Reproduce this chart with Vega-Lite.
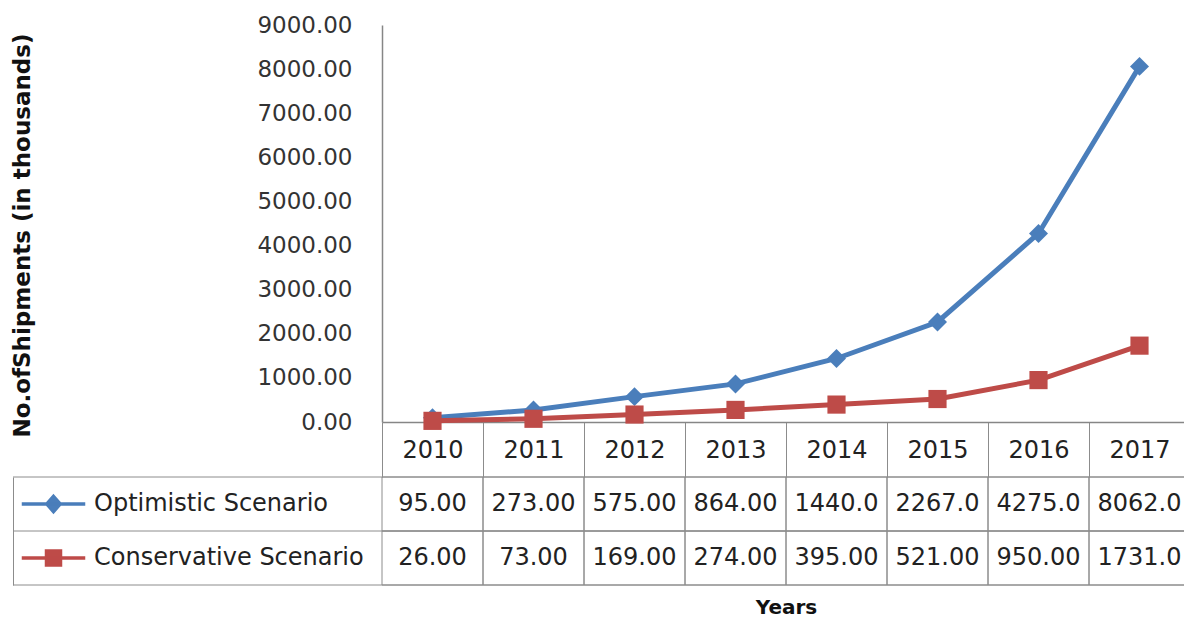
{
 "$schema": "https://vega.github.io/schema/vega-lite/v6.json",
 "width": 1171,
 "height": 597,
 "autosize": {"type": "none"},
 "padding": {"left": 13, "top": 25, "right": 0, "bottom": 0},
 "background": "white",
 "config": {
  "view": {"stroke": null},
  "font": "DejaVu Sans",
  "axis": {"labelFont": "DejaVu Sans", "titleFont": "DejaVu Sans"},
  "legend": {"labelFont": "DejaVu Sans"},
  "text": {"font": "DejaVu Sans"}
 },
 "data": {"values": [
  {"year": "2010", "series": "Optimistic Scenario", "value": 95},
  {"year": "2011", "series": "Optimistic Scenario", "value": 273},
  {"year": "2012", "series": "Optimistic Scenario", "value": 575},
  {"year": "2013", "series": "Optimistic Scenario", "value": 864},
  {"year": "2014", "series": "Optimistic Scenario", "value": 1440},
  {"year": "2015", "series": "Optimistic Scenario", "value": 2267},
  {"year": "2016", "series": "Optimistic Scenario", "value": 4275},
  {"year": "2017", "series": "Optimistic Scenario", "value": 8062},
  {"year": "2010", "series": "Conservative Scenario", "value": 26},
  {"year": "2011", "series": "Conservative Scenario", "value": 73},
  {"year": "2012", "series": "Conservative Scenario", "value": 169},
  {"year": "2013", "series": "Conservative Scenario", "value": 274},
  {"year": "2014", "series": "Conservative Scenario", "value": 395},
  {"year": "2015", "series": "Conservative Scenario", "value": 521},
  {"year": "2016", "series": "Conservative Scenario", "value": 950},
  {"year": "2017", "series": "Conservative Scenario", "value": 1731}
 ]},
 "layer": [
  {
   "encoding": {
    "x": {
     "field": "year", "type": "ordinal",
     "scale": {"type": "band", "domain": ["2010","2011","2012","2013","2014","2015","2016","2017"], "range": [369, 1177], "paddingInner": 0, "paddingOuter": 0},
     "axis": {
      "orient": "bottom", "offset": -200,
      "domain": true, "domainColor": "#868686", "domainWidth": 1.5,
      "ticks": true, "tickBand": "extent", "tickSize": 55, "tickColor": "#8c8c8c", "tickWidth": 1,
      "grid": false, "labelAngle": 0, "labelFontSize": 24, "labelColor": "#222222",
      "labelPadding": -27, "labelBaseline": "middle",
      "title": "Years", "titleFontSize": 20, "titleFontWeight": "bold", "titleColor": "#111111",
      "titleY": 185, "titleBaseline": "middle"
     }
    },
    "y": {
     "field": "value", "type": "quantitative",
     "scale": {"domain": [0, 9000], "range": [397, 0], "nice": false, "zero": true},
     "axis": {
      "orient": "left", "offset": -369,
      "values": [0, 1000, 2000, 3000, 4000, 5000, 6000, 7000, 8000, 9000],
      "format": ".2f", "grid": false, "ticks": false,
      "domain": true, "domainColor": "#868686", "domainWidth": 1.5,
      "labelFontSize": 23, "labelColor": "#333333", "labelPadding": 30,
      "title": "No.ofShipments (in thousands)", "titleFontSize": 23, "titleFontWeight": "bold", "titleColor": "#111111",
      "titleX": -360, "titleY": 210, "titleAngle": -90, "titleBaseline": "middle", "titleAlign": "center"
     }
    },
    "color": {
     "field": "series", "type": "nominal",
     "scale": {"domain": ["Optimistic Scenario", "Conservative Scenario"], "range": ["#4A7EBB", "#BE4B48"]},
     "legend": {
      "orient": "none", "legendX": 28.5, "legendY": 467, "title": null, "padding": 0,
      "symbolSize": 400, "symbolStrokeWidth": 1.5, "symbolOpacity": 1,
      "labelFontSize": 24, "labelColor": "#222222", "labelOffset": 28.5, "rowPadding": 30, "labelLimit": 400
     }
    }
   },
   "layer": [
    {"mark": {"type": "line", "strokeWidth": 5}},
    {
     "mark": {"type": "point", "filled": true, "opacity": 0, "size": 400},
     "encoding": {
      "shape": {
       "field": "series", "type": "nominal",
       "scale": {"domain": ["Optimistic Scenario", "Conservative Scenario"], "range": ["M-3.1,-0.1L3.1,-0.1L3.1,0.1L-3.1,0.1ZM0,-0.9L0.8,0L0,0.9L-0.8,0Z", "M-3.1,-0.1L3.1,-0.1L3.1,0.1L-3.1,0.1ZM-0.8,-0.8L0.8,-0.8L0.8,0.8L-0.8,0.8Z"]},
       "legend": {
        "orient": "none", "legendX": 28.5, "legendY": 467, "title": null, "padding": 0,
        "symbolSize": 400, "symbolStrokeWidth": 1.5, "symbolOpacity": 1,
        "labelFontSize": 24, "labelColor": "#222222", "labelOffset": 28.5, "rowPadding": 30, "labelLimit": 400
       }
      }
     }
    },
    {
     "transform": [{"filter": "datum.series === 'Optimistic Scenario'"}],
     "mark": {"type": "point", "filled": true, "opacity": 1, "size": 360, "shape": "diamond"}
    },
    {
     "transform": [{"filter": "datum.series === 'Conservative Scenario'"}],
     "mark": {"type": "point", "filled": true, "opacity": 1, "size": 330, "shape": "square"}
    }
   ]
  },
  {
   "encoding": {
    "y": {
     "field": "series", "type": "nominal",
     "scale": {"type": "band", "domain": ["Optimistic Scenario", "Conservative Scenario"], "range": [452, 560], "paddingInner": 0, "paddingOuter": 0},
     "axis": {
      "orient": "left", "offset": 0, "domain": true, "domainColor": "#8c8c8c",
      "ticks": false, "labels": false, "grid": false, "title": null
     }
    }
   },
   "layer": [
    {
     "mark": {"type": "rect", "fill": "transparent", "stroke": "#8c8c8c", "strokeWidth": 1},
     "encoding": {
      "x": {
       "field": "year", "type": "ordinal",
       "axis": {
        "orient": "bottom", "offset": -200,
        "domain": true, "domainColor": "#868686", "domainWidth": 1.5,
        "ticks": true, "tickBand": "extent", "tickSize": 55, "tickColor": "#8c8c8c", "tickWidth": 1,
        "grid": false, "labelAngle": 0, "labelFontSize": 24, "labelColor": "#222222",
        "labelPadding": -27, "labelBaseline": "middle",
        "title": "Years", "titleFontSize": 20, "titleFontWeight": "bold", "titleColor": "#111111",
        "titleY": 185, "titleBaseline": "middle"
       }
      }
     }
    },
    {
     "transform": [{"filter": "datum.year === '2010'"}],
     "mark": {"type": "rule", "color": "#8c8c8c", "strokeWidth": 1},
     "encoding": {"y": {"field": "series", "type": "nominal", "bandPosition": 0}}
    },
    {
     "transform": [{"filter": "datum.year === '2010' && datum.series === 'Conservative Scenario'"}],
     "mark": {"type": "rule", "color": "#8c8c8c", "strokeWidth": 1},
     "encoding": {"y": {"field": "series", "type": "nominal", "bandPosition": 1}}
    },
    {
     "transform": [{"filter": "datum.value < 1000"}],
     "mark": {"type": "text", "fontSize": 24, "color": "#222222"},
     "encoding": {
      "x": {
       "field": "year", "type": "ordinal",
       "axis": {
        "orient": "bottom", "offset": -200,
        "domain": true, "domainColor": "#868686", "domainWidth": 1.5,
        "ticks": true, "tickBand": "extent", "tickSize": 55, "tickColor": "#8c8c8c", "tickWidth": 1,
        "grid": false, "labelAngle": 0, "labelFontSize": 24, "labelColor": "#222222",
        "labelPadding": -27, "labelBaseline": "middle",
        "title": "Years", "titleFontSize": 20, "titleFontWeight": "bold", "titleColor": "#111111",
        "titleY": 185, "titleBaseline": "middle"
       }
      },
      "text": {"field": "value", "type": "quantitative", "format": ".2f"}
     }
    },
    {
     "transform": [{"filter": "datum.value >= 1000"}],
     "mark": {"type": "text", "fontSize": 24, "color": "#222222"},
     "encoding": {
      "x": {
       "field": "year", "type": "ordinal",
       "axis": {
        "orient": "bottom", "offset": -200,
        "domain": true, "domainColor": "#868686", "domainWidth": 1.5,
        "ticks": true, "tickBand": "extent", "tickSize": 55, "tickColor": "#8c8c8c", "tickWidth": 1,
        "grid": false, "labelAngle": 0, "labelFontSize": 24, "labelColor": "#222222",
        "labelPadding": -27, "labelBaseline": "middle",
        "title": "Years", "titleFontSize": 20, "titleFontWeight": "bold", "titleColor": "#111111",
        "titleY": 185, "titleBaseline": "middle"
       }
      },
      "text": {"field": "value", "type": "quantitative", "format": ".1f"}
     }
    }
   ]
  }
 ],
 "resolve": {"scale": {"y": "independent"}, "axis": {"y": "independent"}}
}
